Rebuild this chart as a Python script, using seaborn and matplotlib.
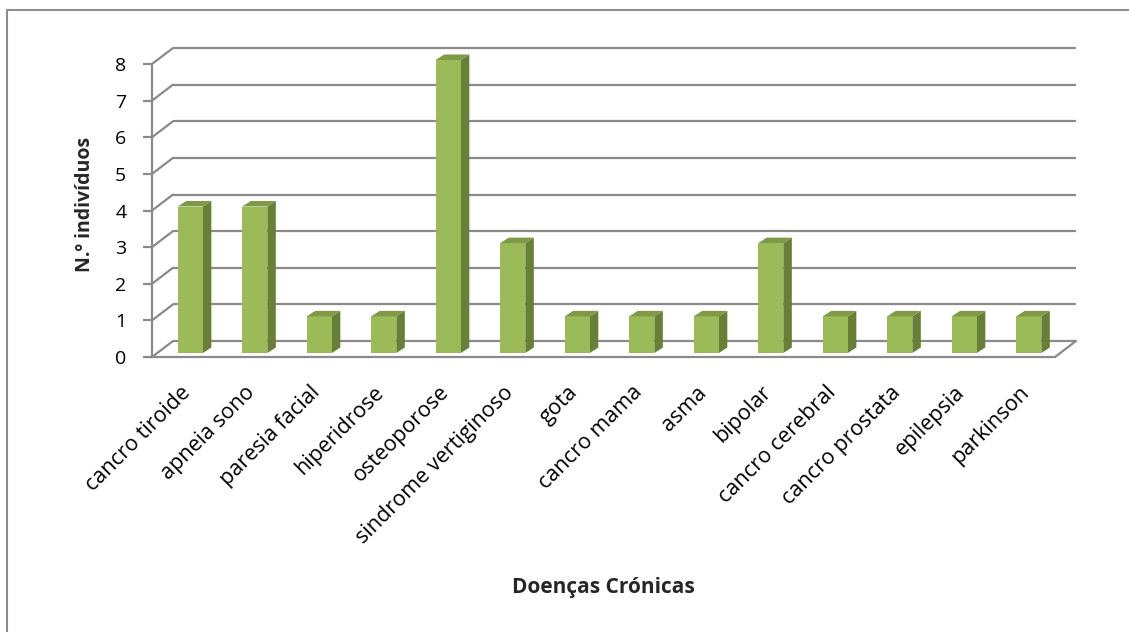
import matplotlib
matplotlib.use("Agg")
import matplotlib.pyplot as plt
import matplotlib.transforms as mtransforms
from matplotlib.lines import Line2D
from matplotlib.patches import Polygon
import pandas as pd
import seaborn as sns

# Chronic diseases and number of individuals
doencas = ["cancro tiroide", "apneia sono", "paresia facial", "hiperidrose",
           "osteoporose", "sindrome vertiginoso", "gota", "cancro mama", "asma",
           "bipolar", "cancro cerebral", "cancro prostata", "epilepsia", "parkinson"]
individuos = [4, 4, 1, 1, 8, 3, 1, 1, 1, 3, 1, 1, 1, 1]
y_ticks = [0, 1, 2, 3, 4, 5, 6, 7, 8]

sns.set_theme(style="white")
plt.rcParams["font.family"] = ["Open Sans", "DejaVu Sans"]

W, H = 1129, 632
fig = plt.figure(figsize=(W / 100, H / 100), dpi=100)
fig.patch.set_facecolor("white")

# plot area in pixels: left 152, right 1055, bottom 357, top 64
ax = fig.add_axes([152 / W, (H - 357) / H, 903 / W, 293 / H])
ax.set_facecolor("none")

df = pd.DataFrame({"doenca": doencas, "n": individuos})
sns.barplot(data=df, x="doenca", y="n", color="#9BBB59", saturation=1,
            width=0.39, ax=ax, zorder=5, edgecolor="none")

n = len(doencas)
ax.set_xlim(-0.5, n - 0.5)
ax.set_ylim(0, 8)
ax.set_yticks(y_ticks)

# pixel -> data helpers
ppx = 903 / n
ppy = 293 / 8


def dx(p):
    return p / ppx


def dy(p):
    return p / ppy


grid_c = "#8A8A8A"
lw = 1.6
wdx, wdy = dx(21), dy(16)
x0, x1 = -0.5, n - 0.5

# back wall gridlines and left wall diagonals
for t in y_ticks:
    ax.plot([x0 + wdx, x1 + wdx], [t + wdy, t + wdy], color=grid_c, lw=lw,
            clip_on=False, zorder=1, solid_capstyle="butt")
    ax.plot([x0, x0 + wdx], [t, t + wdy], color=grid_c, lw=lw,
            clip_on=False, zorder=1)
# floor right edge
ax.plot([x1, x1 + wdx], [0, wdy], color=grid_c, lw=lw, clip_on=False, zorder=1)

# 3D-style bars: shift front faces, add side and top faces
fdx, fdy = dx(6), dy(4)
sdx, sdy = dx(8.5), dy(5.5)
for p in list(ax.patches):
    p.set_x(p.get_x() + fdx)
    p.set_y(p.get_y() + fdy)
    p.set_clip_on(False)
    l = p.get_x()
    r = l + p.get_width()
    b = p.get_y()
    t = b + p.get_height()
    side = Polygon([(r, b), (r, t), (r + sdx, t + sdy), (r + sdx, b + sdy)],
                   closed=True, facecolor="#687F38", edgecolor="none",
                   zorder=4, clip_on=False)
    top = Polygon([(l, t), (r, t), (r + sdx, t + sdy), (l + sdx, t + sdy)],
                  closed=True, facecolor="#7E9A47", edgecolor="none",
                  zorder=6, clip_on=False)
    ax.add_patch(side)
    ax.add_patch(top)

# axes lines
for s in ["top", "right"]:
    ax.spines[s].set_visible(False)
for s in ["left", "bottom"]:
    ax.spines[s].set_color(grid_c)
    ax.spines[s].set_linewidth(lw)
    ax.spines[s].set_zorder(7)

ax.tick_params(axis="y", which="both", left=True, length=6.5, width=lw,
               color=grid_c, pad=12, labelsize=14, labelcolor="black")
ax.tick_params(axis="x", bottom=False, pad=2, labelsize=15.5, labelcolor="black")
ax.set_xticks(range(n))
ax.set_xticklabels(doencas, rotation=45, ha="right", va="top",
                   rotation_mode="anchor")
shift = mtransforms.ScaledTranslation(-3 / 72, -10 / 72, fig.dpi_scale_trans)
for lab in ax.get_xticklabels():
    lab.set_transform(lab.get_transform() + shift)

ax.set_xlabel("")
ax.set_ylabel("")
fig.text(85 / W, 1 - 204 / H, "N.º indivíduos", rotation=90, ha="center",
         va="center", fontsize=14, fontweight="bold")
fig.text(603 / W, 1 - 588 / H, "Doenças Crónicas", ha="center", va="center",
         fontsize=15, fontweight="bold")

# chart area border
border_c = "#8E8E8E"
fig.add_artist(Line2D([7 / W, 7 / W], [0, 1 - 10 / H], color=border_c, lw=1.5))
fig.add_artist(Line2D([7 / W, 1], [1 - 10 / H, 1 - 10 / H], color=border_c, lw=1.5))

fig.savefig("out.png", dpi=100, facecolor="white")
